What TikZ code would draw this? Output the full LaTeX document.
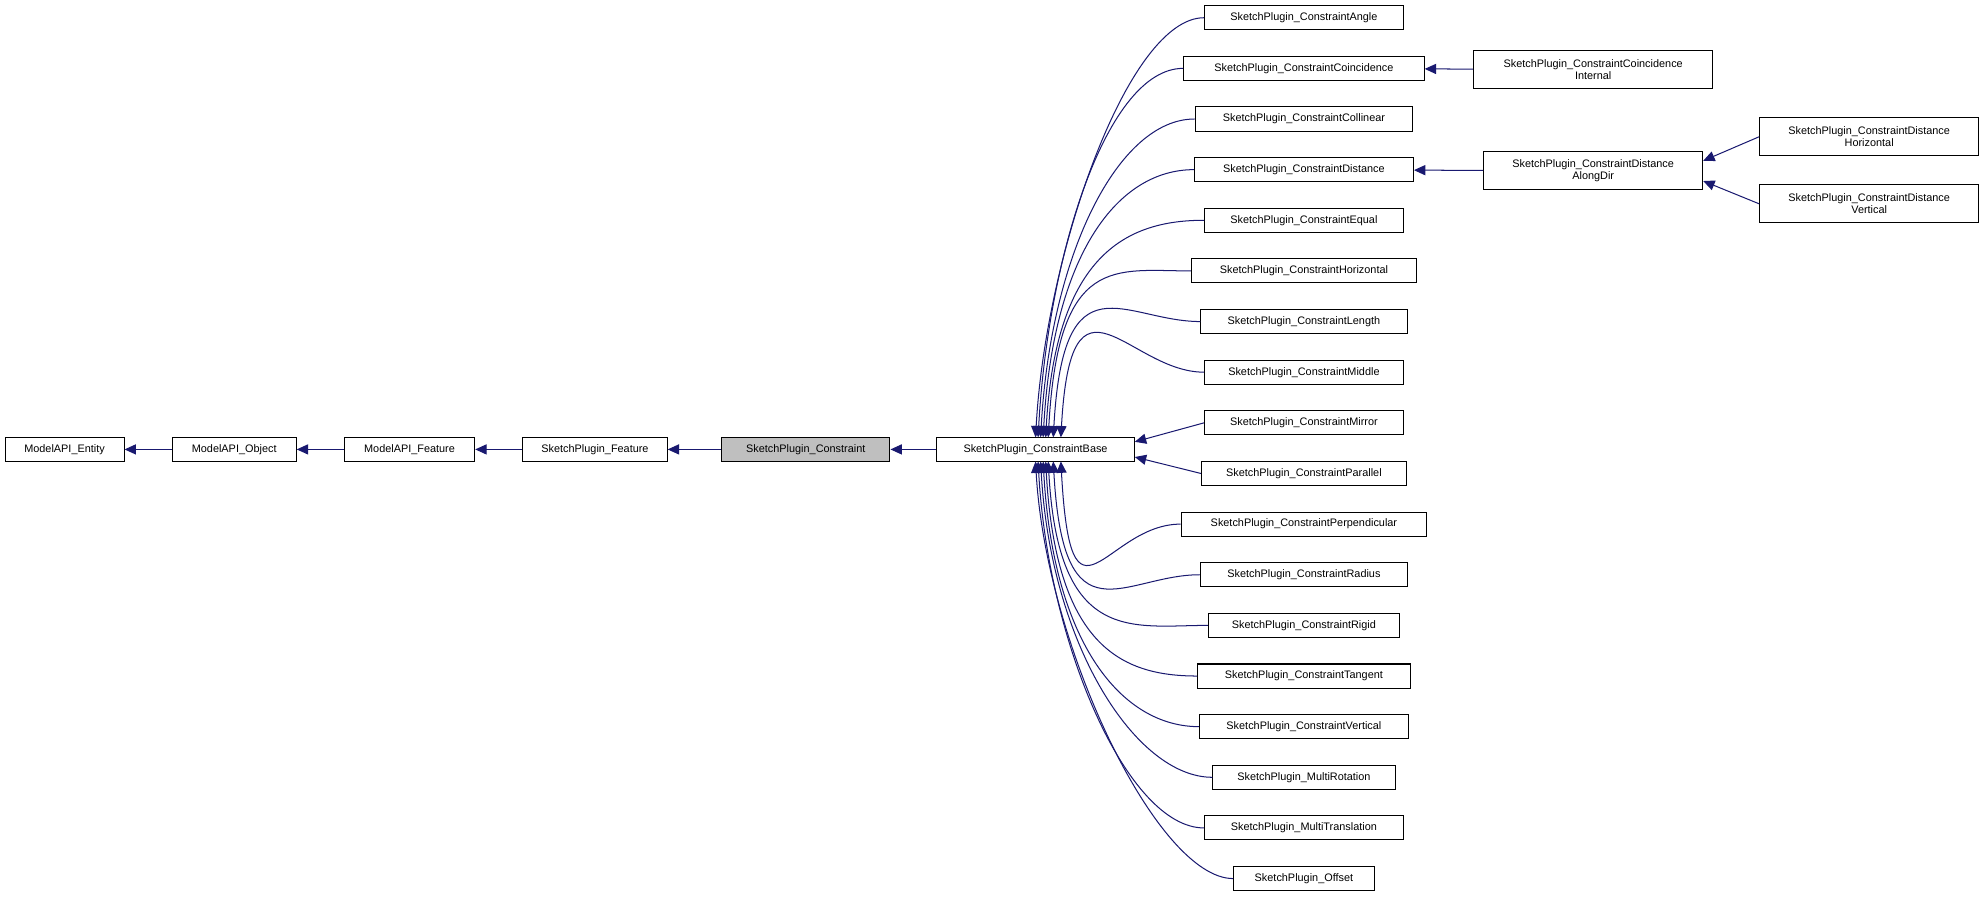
\documentclass[tikz,border=0pt]{standalone}
\usepackage{fontspec}
\setmainfont{Liberation Sans}
\usetikzlibrary{arrows.meta,calc}
\definecolor{edge}{RGB}{25,25,112}
\begin{document}
\begin{tikzpicture}[x=1pt,y=-1pt,
  box/.style={draw=black,fill=white,line width=0.8pt,inner sep=0pt,minimum height=19pt,font=\fontsize{8.6}{9.6}\selectfont,align=center},
  box2/.style={box,minimum height=30pt},
  e/.style={draw=edge,line width=0.8pt,{Triangle[length=9pt,width=8pt]}-}]
\useasboundingbox (0,0) rectangle (1568,710);
\fill[white] (0,0) rectangle (1568,710);
% main chain
\node[box,minimum width=94pt] (ent) at (51,355) {ModelAPI\_Entity};
\node[box,minimum width=98pt] (obj) at (185,355) {ModelAPI\_Object};
\node[box,minimum width=103pt] (feat) at (323.5,355) {ModelAPI\_Feature};
\node[box,minimum width=114pt] (spf) at (470,355) {SketchPlugin\_Feature};
\node[box,minimum width=133pt,fill={rgb,255:red,191;green,191;blue,191}] (con) at (636.5,355) {SketchPlugin\_Constraint};
\node[box,minimum width=156pt] (base) at (818,355) {SketchPlugin\_ConstraintBase};
\draw[e] (ent) -- (obj);
\draw[e] (obj) -- (feat);
\draw[e] (feat) -- (spf);
\draw[e] (spf) -- (con);
\draw[e] (con) -- (base);
% children
\foreach \n/\t/\w [count=\i from 0] in {
 angle/Angle/157, coin/Coincidence/190, coll/Collinear/172, dist/Distance/173,
 equal/Equal/157, hor/Horizontal/178, len/Length/163, mid/Middle/157,
 mir/Mirror/157, par/Parallel/162, perp/Perpendicular/194, rad/Radius/164,
 rig/Rigid/151, tan/Tangent/168, vert/Vertical/165} {
  \node[box,minimum width=\w pt] (\n) at (1030,14+40*\i) {SketchPlugin\_Constraint\t};
}
\node[box,minimum width=144pt] (mrot) at (1030,614) {SketchPlugin\_MultiRotation};
\node[box,minimum width=157pt] (mtr) at (1030,654) {SketchPlugin\_MultiTranslation};
\node[box,minimum width=111pt] (off) at (1030,694) {SketchPlugin\_Offset};
% curved edges from base top
\foreach \n/\px in {angle/818, coin/820, coll/822, dist/824, equal/826, hor/828, len/832, mid/838} {
  \draw[e] (\px,345.5) .. controls (\px+8,200) and ($(\n.west)+(-60,0)$) .. (\n.west);
}
\foreach \n/\px in {perp/838, rad/832, rig/828, tan/826, vert/824, mrot/822, mtr/820, off/818} {
  \draw[e] (\px,364.5) .. controls (\px+8,510) and ($(\n.west)+(-60,0)$) .. (\n.west);
}
\draw[e] (base.east |- 0,349) -- (mir.west);
\draw[e] (base.east |- 0,361) -- (par.west);
% second level
\node[box2,minimum width=189pt] (coinint) at (1258.5,55) {SketchPlugin\_ConstraintCoincidence\\Internal};
\node[box2,minimum width=173pt] (along) at (1258.5,135) {SketchPlugin\_ConstraintDistance\\AlongDir};
\node[box2,minimum width=173pt] (dh) at (1476.5,108) {SketchPlugin\_ConstraintDistance\\Horizontal};
\node[box2,minimum width=173pt] (dv) at (1476.5,161) {SketchPlugin\_ConstraintDistance\\Vertical};
\draw[e] (coin) -- (coinint);
\draw[e] (dist) -- (along);
\draw[e] (along.east |- 0,127) -- (dh.west);
\draw[e] (along.east |- 0,143) -- (dv.west);
\end{tikzpicture}
\end{document}
